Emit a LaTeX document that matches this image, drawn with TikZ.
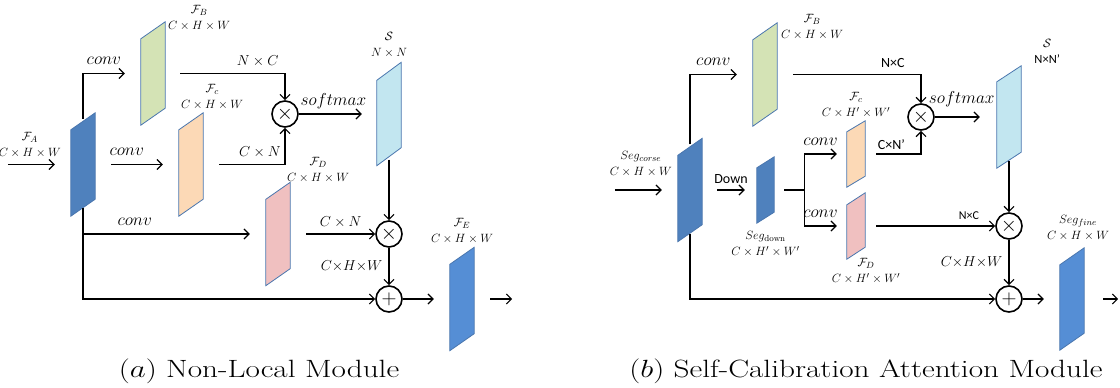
\documentclass[tikz,border=0pt]{standalone}
\usepackage{graphicx}
\usepackage{fontspec}
\newfontfamily\calibri{Carlito}
\usetikzlibrary{arrows.meta,positioning}

\definecolor{mapblue}{HTML}{4F81BD}
\definecolor{outblue}{HTML}{558ED5}
\definecolor{mapgreen}{HTML}{D4E3B5}
\definecolor{maporange}{HTML}{FCD9B6}
\definecolor{mappink}{HTML}{F0C0C0}
\definecolor{mapcyan}{HTML}{C2E6F0}
\definecolor{mapedge}{HTML}{4A76AE}

\begin{document}
\begin{tikzpicture} [
    x=1pt, y=-1pt,
    fmap/.style={rectangle, inner sep=0pt, minimum width=24pt, minimum height=103pt},
    smallmap/.style={rectangle, inner sep=0pt, minimum width=18pt, minimum height=66pt},
    op/.style={circle, draw=black, line width=1.6pt, minimum size=26pt, inner sep=0pt, font=\fontsize{20}{20}\selectfont},
    dim/.style={align=center, inner sep=0pt, font=\fontsize{12.5}{16}\selectfont},
    opname/.style={midway, inner sep=0pt, text depth=0pt, above=8pt, font=\fontsize{17}{17}\selectfont},
    edgelbl/.style={midway, inner sep=0pt, text depth=0pt, above=7pt, font=\fontsize{13.5}{13.5}\selectfont},
    sidelbl/.style={midway, inner sep=0pt, left=6pt, font=\fontsize{14}{14}\selectfont},
    sanslbl/.style={midway, inner sep=0pt, text depth=0pt, above=6pt, font=\calibri\fontsize{14}{14}\selectfont},
    caption/.style={inner sep=0pt, anchor=base, font=\fontsize{25}{28}\selectfont},
    flow/.style={->, line width=1.2pt},
    >={Straight Barb[length=5pt,width=10pt]}
    ]
    \useasboundingbox (0,0) rectangle (1120,388);

    %Feature maps, (a)
    \node[fmap]      (fa)   at (83,164.5)  {};
    \node[fmap]      (fb)   at (153,73.5)  {};
    \node[fmap]      (fc)   at (191,164.5) {};
    \node[fmap]      (fd)   at (278,234)   {};
    \node[fmap]      (s)    at (389,114)   {};
    \node[fmap]      (fe)   at (462,299)   {};
    %Feature maps, (b)
    \node[fmap]      (segc) at (690,190)   {};
    \node[fmap]      (fbb)  at (765,74.5)  {};
    \node[smallmap, minimum width=17pt] (segd) at (765.5,190) {};
    \node[smallmap]  (fcb)  at (856,154)   {};
    \node[smallmap]  (fdb)  at (856,226)   {};
    \node[fmap, minimum height=102pt] (sb)   at (1009,117) {};
    \node[fmap, minimum height=102pt] (segf) at (1072,299) {};

    \foreach \blk/\col/\sl in {fa/mapblue/17, fb/mapgreen/17, fc/maporange/17, fd/mappink/17,
        s/mapcyan/18, fe/outblue/17, segc/mapblue/17, fbb/mapgreen/17, segd/mapblue/11,
        fcb/maporange/11, fdb/mappink/12, sb/mapcyan/16, segf/outblue/17}
      \filldraw[fill=\col, draw=mapedge, line width=0.8pt]
        ([yshift=-\sl]\blk.north west) -- (\blk.north east)
        -- ([yshift=\sl]\blk.south east) -- (\blk.south west) -- cycle;

    %Operators
    \node[op]        (m1)   at (285,114)   {$\times$};
    \node[op]        (m2)   at (389,234)   {$\times$};
    \node[op]        (add)  at (389,299)   {$+$};
    \node[op]        (m3)   at (921,117)   {$\times$};
    \node[op]        (m4)   at (1009,226)  {$\times$};
    \node[op]        (add2) at (1009,299)  {$+$};

    %Labels
    \node[dim] (fa_lbl)   at ([xshift=-41,yshift=19.5]fa.west)      {$\mathcal{F}_A$\\$C\times H\times W$};
    \node[dim] (fb_lbl)   at ([xshift=34,yshift=3.5]fb.north east)  {$\mathcal{F}_B$\\$C\times H\times W$};
    \node[dim] (fc_lbl)   at ([xshift=9,yshift=16]fc.north east)    {$\mathcal{F}_c$\\$C\times H\times W$};
    \node[dim] (fd_lbl)   at ([xshift=28,yshift=12.5]fd.north east) {$\mathcal{F}_D$\\$C\times H\times W$};
    \node[dim] (s_lbl)    at ([yshift=17.5]s.north)                 {$\mathcal{S}$\\$N\times N$};
    \node[dim] (fe_lbl)   at ([yshift=16]fe.north)                  {$\mathcal{F}_E$\\$C\times H\times W$};
    \node[dim] (segc_lbl) at ([xshift=-37,yshift=26]segc.west)      {$Seg_{corse}$\\$C\times H\times W$};
    \node[dim] (fbb_lbl)  at ([xshift=35,yshift=-4]fbb.north east)  {$\mathcal{F}_B$\\$C\times H\times W$};
    \node[dim] (segd_lbl) at ([yshift=-21]segd.south)               {$Seg_{\mathrm{down}}$\\$C\times H'\times W'$};
    \node[dim] (fcb_lbl)  at ([yshift=16]fcb.north)                 {$\mathcal{F}_c$\\$C\times H'\times W'$};
    \node[dim] (fdb_lbl)  at ([xshift=10,yshift=-12]fdb.south)      {$\mathcal{F}_D$\\$C\times H'\times W'$};
    \node[dim] (sb_lbl)   at ([xshift=26,yshift=14]sb.north east)   {$\mathcal{S}$\\{\calibri N×N’}};
    \node[dim] (segf_lbl) at ([xshift=6,yshift=20]segf.north)       {$Seg_{fine}$\\$C\times H\times W$};

    \node[caption] (cap_a) at (259,377) {\scalebox{1.25}[1]{$(a)$ Non-Local Module}};
    \node[caption] (cap_b) at (866,377) {\scalebox{1.25}[1]{$(b)$ Self-Calibration Attention Module}};

    %Lines, (a)
    \draw[flow] ([xshift=-63]fa.west) -- ([xshift=-16]fa.west);
    \draw[flow] ([yshift=-6]fa.north) |- ([xshift=-16]fb.west) node[opname, pos=0.75] {$conv$};
    \draw[flow] ([xshift=16]fa.east) -- ([xshift=-16]fc.west) node[opname, pos=0.3] {$conv$};
    \draw[flow] (fa.south |- fd.west) -- ([xshift=-16]fd.west) node[opname, pos=0.31] {$conv$};
    \draw[flow] ([xshift=15]fb.east) -| (m1.north) node[edgelbl, pos=0.37] {$N\times C$};
    \draw[flow] ([xshift=16]fc.east) -| (m1.south) node[edgelbl, pos=0.31] {$C\times N$};
    \draw[flow] (m1.east) -- ([xshift=-15]s.west) node[opname, pos=0.55] {$softmax$};
    \draw[flow] ([yshift=6]s.south) -- (m2.north);
    \draw[flow] ([xshift=16]fd.east) -- (m2.west) node[edgelbl] {$C\times N$};
    \draw[flow] (m2.south) -- (add.north) node[sidelbl] {$C{\times}H{\times}W$};
    \draw[flow] ([yshift=8]fa.south) |- (add.west);
    \draw[flow] (add.east) -- ([xshift=-16]fe.west);
    \draw[flow] ([xshift=16]fe.east) -- ([xshift=38]fe.east);

    %Lines, (b)
    \coordinate (split) at ([xshift=30]segd.east);
    \draw[flow] ([xshift=-63]segc.west) -- ([xshift=-16]segc.west);
    \draw[flow] ([yshift=-6]segc.north) |- ([xshift=-16]fbb.west) node[opname, pos=0.75] {$conv$};
    \draw[flow] ([xshift=16]fbb.east) -| (m3.north) node[sanslbl, pos=0.39] {N×C};
    \draw[flow] ([xshift=15]segc.east) -- ([xshift=-12]segd.west) node[sanslbl] {Down};
    \draw[line width=1.2pt] ([xshift=10]segd.east) -- (split);
    \draw[flow] (split) |- ([xshift=-10]fcb.west) node[opname, pos=0.75] {$conv$};
    \draw[flow] (split) |- ([xshift=-10]fdb.west) node[opname, pos=0.75] {$conv$};
    \draw[flow] ([xshift=11]fcb.east) -| (m3.south) node[sanslbl, pos=0.17, above=4pt] {C×N’};
    \draw[flow] (m3.east) -- ([xshift=-17]sb.west) node[opname, pos=0.6, above=13pt] {$softmax$};
    \draw[flow] ([yshift=7]sb.south) -- (m4.north);
    \draw[flow] ([xshift=11]fdb.east) -- (m4.west) node[sanslbl, pos=0.78, font=\calibri\fontsize{12}{12}\selectfont] {N×C};
    \draw[flow] (m4.south) -- (add2.north) node[sidelbl] {$C{\times}H{\times}W$};
    \draw[flow] ([yshift=8]segc.south) |- (add2.west);
    \draw[flow] (add2.east) -- ([xshift=-16]segf.west);
    \draw[flow] ([xshift=19]segf.east) -- ([xshift=34]segf.east);
\end{tikzpicture}
\end{document}
